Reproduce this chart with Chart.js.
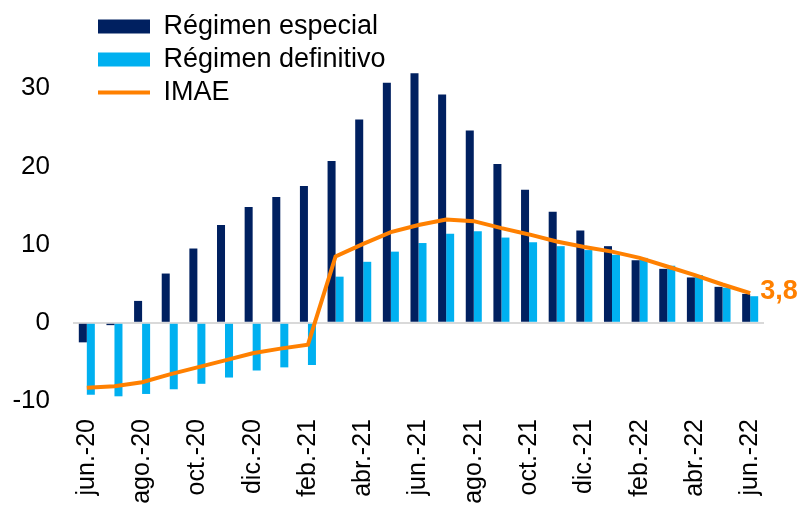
<!DOCTYPE html>
<html>
<head>
<meta charset="utf-8">
<script src="https://cdn.jsdelivr.net/npm/chart.js@4"></script>
<style>
  body { margin: 0; background: #fff; }
  #wrap { width: 800px; height: 508px; position: relative; }
</style>
</head>
<body>
<div id="wrap"><canvas id="chart"></canvas></div>
<script>
// ---------- Data ----------
const months = [
  "jun.-20", "jul.-20", "ago.-20", "sep.-20", "oct.-20", "nov.-20", "dic.-20",
  "ene.-21", "feb.-21", "mar.-21", "abr.-21", "may.-21", "jun.-21", "jul.-21",
  "ago.-21", "sep.-21", "oct.-21", "nov.-21", "dic.-21", "ene.-22", "feb.-22",
  "mar.-22", "abr.-22", "may.-22", "jun.-22"
];
const especial = [-2.5, -0.3, 2.8, 6.3, 9.5, 12.5, 14.8, 16.1, 17.5, 20.7, 26.0, 30.7, 31.9,
  29.2, 24.6, 20.3, 17.0, 14.2, 11.8, 9.8, 8.0, 6.9, 5.8, 4.6, 3.7];
const definitivo = [-9.2, -9.4, -9.1, -8.5, -7.8, -7.0, -6.1, -5.7, -5.4, 5.9, 7.8, 9.1, 10.2,
  11.4, 11.7, 10.9, 10.3, 9.8, 9.3, 8.7, 8.3, 7.3, 6.1, 4.5, 3.4];
const imae = [-8.3, -8.1, -7.6, -6.6, -5.7, -4.8, -3.9, -3.3, -2.8, 8.5, 10.1, 11.6, 12.5,
  13.2, 13.0, 12.1, 11.3, 10.4, 9.7, 9.1, 8.3, 7.2, 6.1, 4.9, 3.8];
const yTicks = [-10, 0, 10, 20, 30];

const NAVY = "#002060";
const SKY = "#00B0F0";
const ORANGE = "#FF8000";

Chart.defaults.font.family = "'Liberation Sans', Arial, sans-serif";
Chart.defaults.color = "#000";

// ---------- Last value label ----------
const endLabel = {
  id: "endLabel",
  afterDatasetsDraw(chart) {
    const meta = chart.getDatasetMeta(2);
    const pt = meta.data[meta.data.length - 1];
    const ctx = chart.ctx;
    ctx.save();
    ctx.font = "bold 27px 'Liberation Sans', Arial, sans-serif";
    ctx.fillStyle = ORANGE;
    ctx.textAlign = "left";
    ctx.textBaseline = "middle";
    ctx.fillText(imae[imae.length - 1].toFixed(1).replace(".", ","), pt.x + 10, pt.y - 2);
    ctx.restore();
  }
};

// ---------- Legend placement ----------
const legendSpot = {
  id: "legendSpot",
  afterLayout(chart) {
    const lg = chart.legend;
    const w = lg.width, h = lg.height;
    lg.left = 92; lg.top = 7;
    lg.right = lg.left + w; lg.bottom = lg.top + h;
  }
};

new Chart(document.getElementById("chart"), {
  type: "bar",
  data: {
    labels: months,
    datasets: [
      { label: "Régimen especial", data: especial, backgroundColor: NAVY, borderWidth: 0, order: 1 },
      { label: "Régimen definitivo", data: definitivo, backgroundColor: SKY, borderWidth: 0, order: 1 },
      { type: "line", label: "IMAE", data: imae, borderColor: ORANGE, backgroundColor: ORANGE,
        borderWidth: 4, pointRadius: 0, tension: 0, order: 0 }
    ]
  },
  options: {
    responsive: true,
    maintainAspectRatio: false,
    animation: false,
    layout: { padding: { left: 0, right: 36, top: 10, bottom: 0 } },
    datasets: { bar: { categoryPercentage: 0.58, barPercentage: 1 } },
    plugins: {
      tooltip: { enabled: false },
      legend: {
        position: "chartArea",
        align: "start",
        labels: {
          font: { size: 27 },
          color: "#000",
          usePointStyle: true,
          pointStyleWidth: 52,
          boxHeight: 14,
          padding: 6,
          sort: (a, b) => a.datasetIndex - b.datasetIndex,
          generateLabels: (chart) =>
            Chart.defaults.plugins.legend.labels.generateLabels(chart).map((item) => {
              item.pointStyle = chart.data.datasets[item.datasetIndex].type === "line" ? "line" : "rect";
              return item;
            })
        }
      }
    },
    scales: {
      x: {
        grid: { display: false, drawTicks: false },
        border: { display: false },
        ticks: {
          autoSkip: false,
          maxRotation: 90,
          minRotation: 90,
          padding: 18,
          font: { size: 25 },
          callback: function (val, i) { return i % 2 === 0 ? this.getLabelForValue(val) : ""; }
        },
        afterFit: (s) => { s.height = 107; s.paddingLeft = 0; s.paddingRight = 0; }
      },
      y: {
        min: -10,
        max: 40,
        border: { display: false },
        grid: {
          drawTicks: false,
          lineWidth: 2,
          color: (c) => (c.tick && c.tick.value === 0 ? "#D9D9D9" : "rgba(0,0,0,0)")
        },
        ticks: { padding: 23, font: { size: 26 } },
        afterBuildTicks: (s) => { s.ticks = yTicks.map((v) => ({ value: v })); },
        afterFit: (s) => { s.width = 73; s.paddingTop = 0; s.paddingBottom = 0; }
      }
    }
  },
  plugins: [legendSpot, endLabel]
});
</script>
</body>
</html>
